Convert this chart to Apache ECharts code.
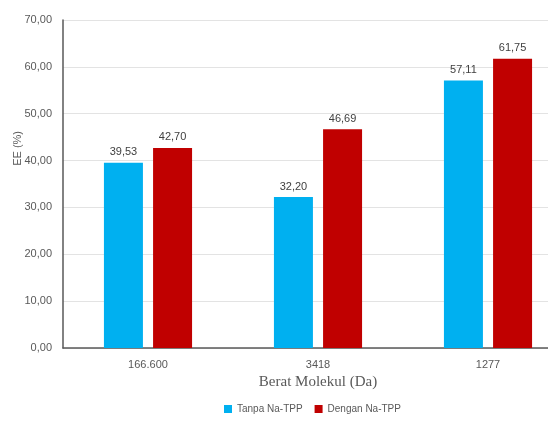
<!DOCTYPE html>
<html>
<head>
<meta charset="utf-8">
<script src="https://cdn.jsdelivr.net/npm/echarts@6/dist/echarts.min.js"></script>
<style>
  html, body { margin: 0; padding: 0; background: #fff; overflow: hidden; }
  #chart { width: 573px; height: 423px; }
</style>
</head>
<body>
<div id="chart"></div>
<script>
// Molecular weight groups and encapsulation efficiency (%)
const categories = ['166.600', '3418', '1277'];
const tanpaNaTPP = [39.53, 32.20, 57.11];
const denganNaTPP = [42.70, 46.69, 61.75];
const seriesNames = ['Tanpa Na-TPP', 'Dengan Na-TPP'];
const yTicks = { min: 0, max: 70, interval: 10 };

const fmt = v => v.toFixed(2).replace('.', ',');
const baseFont = 'Liberation Sans';

const chart = echarts.init(document.getElementById('chart'));
chart.setOption({
  animation: false,
  textStyle: { fontFamily: baseFont },
  grid: { left: 63, top: 20, right: 0, bottom: 75, containLabel: false },
  legend: {
    bottom: 4,
    left: 219,
    itemWidth: 8,
    itemHeight: 8,
    itemGap: 12,
    icon: 'rect',
    textStyle: { color: '#595959', fontSize: 10, fontFamily: baseFont }
  },
  xAxis: {
    type: 'category',
    data: categories,
    name: 'Berat Molekul (Da)',
    nameLocation: 'middle',
    nameGap: 26,
    nameTextStyle: { fontFamily: 'Liberation Serif', fontSize: 15, color: '#595959' },
    axisLine: { lineStyle: { color: '#595959', width: 1.5 } },
    axisTick: { show: false },
    axisLabel: { color: '#595959', fontSize: 11, margin: 11 }
  },
  yAxis: {
    type: 'value',
    min: yTicks.min,
    max: yTicks.max,
    interval: yTicks.interval,
    axisLine: { show: true, lineStyle: { color: '#595959', width: 1.5 } },
    axisTick: { show: false },
    axisLabel: { color: '#595959', fontSize: 11, margin: 11, formatter: fmt },
    splitLine: { lineStyle: { color: '#e3e3e3', width: 1 } }
  },
  graphic: [{
    type: 'text',
    left: 12,
    top: 131,
    rotation: Math.PI / 2,
    style: { text: 'EE (%)', fill: '#595959', font: '11px ' + baseFont }
  }],
  series: [
    {
      name: seriesNames[0],
      type: 'bar',
      data: tanpaNaTPP,
      barWidth: 39,
      barGap: '26%',
      itemStyle: { color: '#00B0F0' },
      label: { show: true, position: 'top', distance: 5, color: '#404040', fontSize: 11, formatter: p => fmt(p.value) }
    },
    {
      name: seriesNames[1],
      type: 'bar',
      data: denganNaTPP,
      barWidth: 39,
      itemStyle: { color: '#C00000' },
      label: { show: true, position: 'top', distance: 5, color: '#404040', fontSize: 11, formatter: p => fmt(p.value) }
    }
  ]
});
</script>
</body>
</html>
